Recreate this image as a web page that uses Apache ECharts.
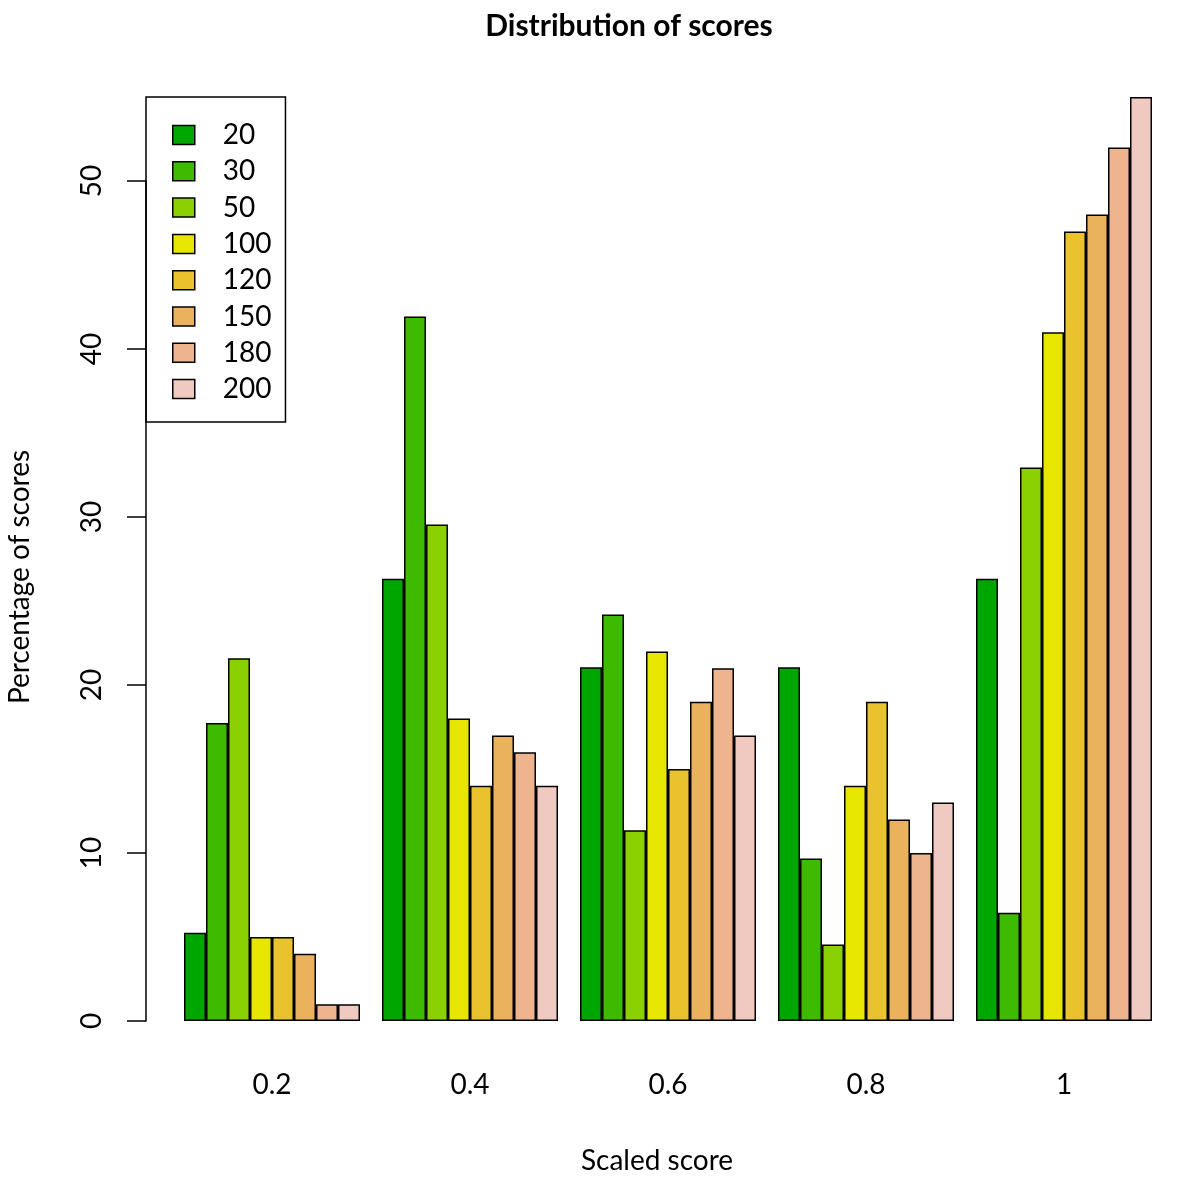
<!DOCTYPE html>
<html>
<head>
<meta charset="utf-8">
<script src="https://cdn.jsdelivr.net/npm/echarts@6/dist/echarts.min.js"></script>
<style>html,body{margin:0;padding:0;background:#fff;}#c{width:1200px;height:1185px;}</style>
</head>
<body>
<div id="c"></div>
<script>
const categories = ['0.2', '0.4', '0.6', '0.8', '1'];
const seriesNames = ['20', '30', '50', '100', '120', '150', '180', '200'];
const s20  = [5.26, 26.32, 21.05, 21.05, 26.32];
const s30  = [17.74, 41.94, 24.19, 9.68, 6.45];
const s50  = [21.59, 29.55, 11.36, 4.55, 32.95];
const s100 = [5, 18, 22, 14, 41];
const s120 = [5, 14, 15, 19, 47];
const s150 = [4, 17, 19, 12, 48];
const s180 = [1, 16, 21, 10, 52];
const s200 = [1, 14, 17, 13, 55];
const yTicks = [0, 10, 20, 30, 40, 50];
const colors = ['#00A600', '#3EBB00', '#8BD000', '#E6E600', '#E8C32E', '#EBB25E', '#EDB48E', '#F0C9C0'];
const allValues = [s20, s30, s50, s100, s120, s150, s180, s200];

const FONT = 'Lato';
const chart = echarts.init(document.getElementById('c'), null, {renderer: 'canvas'});
const option = {
  backgroundColor: '#fff',
  animation: false,
  color: colors,
  title: [
    {text: 'Distribution of scores', left: 624, top: 6, textAlign: 'center',
     textStyle: {fontFamily: FONT, fontWeight: 'bold', fontSize: 30, color: '#000'}},
    {text: 'Scaled score', left: 652, top: 1142, textAlign: 'center',
     textStyle: {fontFamily: FONT, fontWeight: 'normal', fontSize: 28, color: '#000'}}
  ],
  graphic: [{
    type: 'text', x: 20, y: 577, rotation: Math.PI / 2,
    style: {text: 'Percentage of scores', fontFamily: FONT, fontSize: 28, fill: '#000',
            textAlign: 'center', textVerticalAlign: 'middle'}
  }],
  legend: {
    orient: 'vertical', left: 146, top: 97,
    data: seriesNames,
    borderColor: '#000', borderWidth: 1.5, padding: [24, 14, 19, 26],
    itemWidth: 22, itemHeight: 19, itemGap: 8.3,
    icon: 'rect',
    itemStyle: {borderColor: '#000', borderWidth: 1.5},
    textStyle: {fontFamily: FONT, fontSize: 28, color: '#000', padding: [0, 0, 0, 23]}
  },
  grid: [
    {left: 173, right: 37, top: 97, bottom: 164, containLabel: false},
    {left: 146, width: 1, top: 181, bottom: 164, containLabel: false}
  ],
  xAxis: [
    {type: 'category', data: categories, gridIndex: 0,
     axisLine: {show: false}, axisTick: {show: false},
     axisLabel: {margin: 50, fontFamily: FONT, fontSize: 28, color: '#000'}},
    {type: 'value', gridIndex: 1, show: false}
  ],
  yAxis: [
    {type: 'value', gridIndex: 0, min: 0, max: 55, show: false},
    {type: 'value', gridIndex: 1, min: yTicks[0], max: yTicks[yTicks.length - 1], interval: 10,
     position: 'left',
     axisLine: {show: true, lineStyle: {color: '#000', width: 1.5}},
     axisTick: {show: true, length: 19, lineStyle: {color: '#000', width: 1.5}},
     splitLine: {show: false},
     axisLabel: {rotate: 90, margin: 40, fontFamily: FONT, fontSize: 28, color: '#000'}}
  ],
  series: seriesNames.map((name, i) => ({
    name: name, type: 'bar', xAxisIndex: 0, yAxisIndex: 0,
    data: allValues[i],
    barGap: '0%', barCategoryGap: '11.111%',
    itemStyle: {color: colors[i], borderColor: '#000', borderWidth: 1.5}
  }))
};
chart.setOption(option);
</script>
</body>
</html>
